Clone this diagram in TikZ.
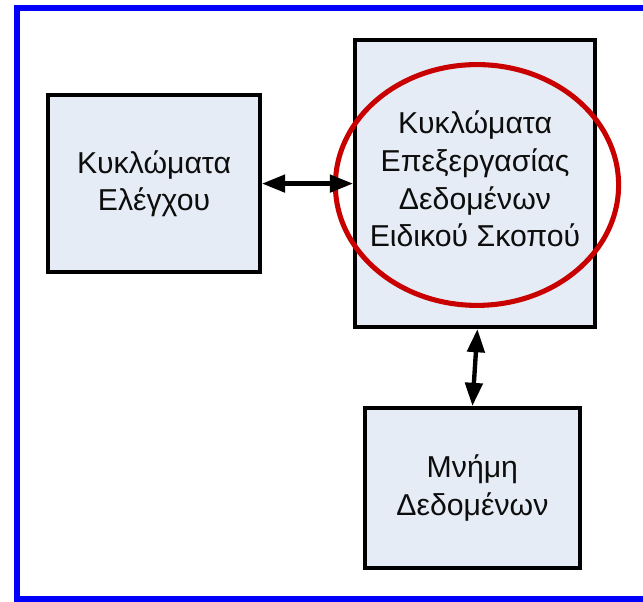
\documentclass[tikz,border=0pt]{standalone}
\usepackage{fontspec}
\setmainfont{Liberation Sans}
\usetikzlibrary{positioning, arrows.meta}
\definecolor{boxfill}{RGB}{230,236,246}
\definecolor{frameblue}{RGB}{0,0,250}
\definecolor{circred}{RGB}{200,0,0}
\tikzset{
  block/.style={draw=black, line width=2.8pt, fill=boxfill, align=center,
    inner sep=0, font=\fontsize{21.5}{26.8}\selectfont, text=black!95},
  link/.style={line width=3.1pt,
    {Triangle[length=5.8mm,width=4.3mm]}-{Triangle[length=5.8mm,width=4.3mm]}}
}
\begin{document}
\begin{tikzpicture}
\useasboundingbox (0,0) rectangle (16.075,15.05);
\clip (0,0) rectangle (16.075,15.05);

% outer frame, right side runs off the page
\draw[frameblue, line width=4.3pt] (0.425,0.075) rectangle (16.4,14.86);

\node[block, minimum width=5.3cm, minimum height=4.425cm] (ctrl) at (3.85,10.46)
  {Κυκλώματα\\Ελέγχου};
\node[block, minimum width=6cm, minimum height=7.175cm] (proc) at (11.875,10.46)
  {};
\node[align=center, font=\fontsize{21.5}{26.8}\selectfont, text=black!95]
  (proctext) at (11.875,10.57) {Κυκλώματα\\Επεξεργασίας\\Δεδομένων\\Ειδικού Σκοπού};
\node[block, minimum width=5.375cm, minimum height=4cm] (mem) at (11.81,2.85)
  {Μνήμη\\Δεδομένων};

\draw[circred, line width=3.6pt] (11.925,10.425) ellipse (3.54cm and 3.01cm);

\draw[link] (ctrl.east) -- (proc.west);
\draw[link] ([xshift=0.06cm]proc.south) -- (mem.north);

\end{tikzpicture}
\end{document}
